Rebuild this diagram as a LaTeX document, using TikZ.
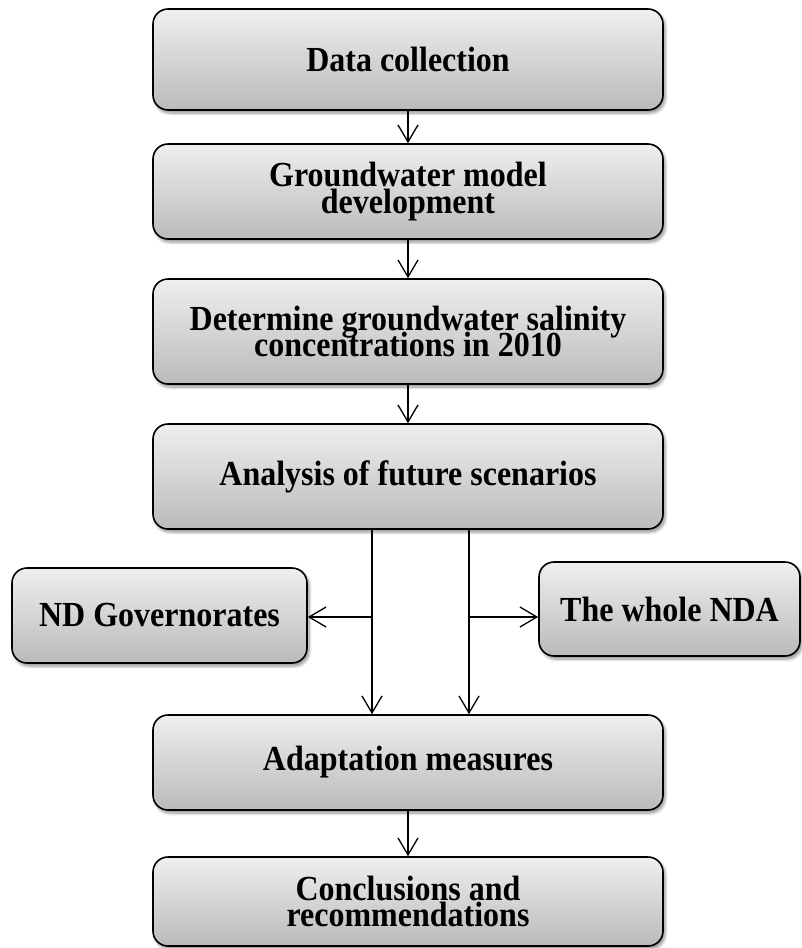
\documentclass[tikz,border=0pt]{standalone}
\usepackage{fontspec}
\setmainfont{Liberation Serif}
\usetikzlibrary{arrows.meta,shadows.blur}
\definecolor{topc}{HTML}{EFEFEF}
\definecolor{botc}{HTML}{BABABA}
\newcommand\stx[1]{\scalebox{1}[1.1]{\vbox{\baselineskip=24pt\lineskiplimit=-100pt\halign{\hfil##\hfil\cr#1\crcr}}}}
\tikzset{
  box/.style={rectangle, rounded corners=15pt, draw=black, line width=1.6pt,
    top color=topc, bottom color=botc, inner sep=0pt, align=center,
    font=\fontsize{32}{27}\selectfont\bfseries,
    blur shadow={shadow xshift=2pt, shadow yshift=-3pt, shadow blur steps=6, shadow blur radius=3pt, shadow opacity=45}},
  arr/.style={line width=1.3pt, -{Straight Barb[length=17pt,width=20pt,line width=1.3pt]}}
}
\begin{document}
\begin{tikzpicture}[x=1pt,y=-1pt]
\useasboundingbox (0,0) rectangle (801,948);
\node[box, minimum width=510pt, minimum height=101pt] (b1) at (408,59.5) {\stx{Data collection}};
\node[box, minimum width=510pt, minimum height=95pt] (b2) at (408,191.5) {\stx{Groundwater model\cr development}};
\node[box, minimum width=510pt, minimum height=105pt] (b3) at (408,331.5) {\stx{Determine groundwater salinity\cr concentrations in 2010}};
\node[box, minimum width=510pt, minimum height=105pt] (b4) at (408,476.5) {\stx{Analysis of future scenarios}};
\node[box, minimum width=295pt, minimum height=95pt] (nd) at (159.5,615.5) {\stx{ND Governorates}};
\node[box, minimum width=261pt, minimum height=94pt] (nda) at (669.5,609) {\stx{The whole NDA}};
\node[box, minimum width=510pt, minimum height=95pt] (b5) at (408,762.5) {\stx{Adaptation measures}};
\node[box, minimum width=510pt, minimum height=89pt] (b6) at (408,901.5) {\stx{Conclusions and\cr recommendations}};
\draw[arr] (b1) -- (b2);
\draw[arr] (b2) -- (b3);
\draw[arr] (b3) -- (b4);
\draw[arr] ([xshift=-36pt]b4.south) -- ([xshift=-36pt]b5.north);
\draw[arr] ([xshift=61pt]b4.south) -- ([xshift=61pt]b5.north);
\coordinate (jl) at (372,617);
\coordinate (jr) at (469,617);
\draw[arr] (jl) -- (nd.east |- jl);
\draw[arr] (jr) -- (nda.west |- jr);
\draw[arr] (b5) -- (b6);
\end{tikzpicture}
\end{document}
